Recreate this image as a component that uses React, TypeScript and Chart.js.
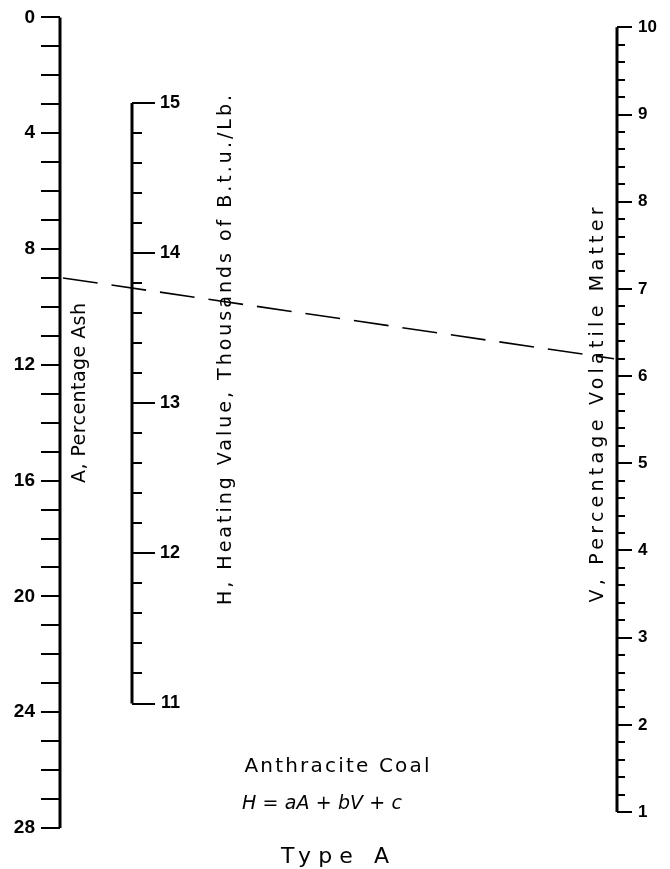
import React, { useEffect, useRef } from "react";
import { Chart, registerables } from "chart.js";

Chart.register(...registerables);

// ---------------- data ----------------
// A scale: Percentage Ash
const A_RANGE = [0, 28];
const A_TICKS = [0, 1, 2, 3, 4, 5, 6, 7, 8, 9, 10, 11, 12, 13, 14, 15, 16, 17, 18, 19, 20, 21, 22, 23, 24, 25, 26, 27, 28];
const A_LABELS = [0, 4, 8, 12, 16, 20, 24, 28];
// H scale: Heating value, thousands of B.t.u./Lb.
const H_RANGE = [11, 15];
const H_MAJOR = [11, 12, 13, 14, 15];
const H_MINOR = [11, 11.2, 11.4, 11.6, 11.8, 12, 12.2, 12.4, 12.6, 12.8, 13, 13.2, 13.4, 13.6, 13.8, 14, 14.2, 14.4, 14.6, 14.8, 15];
// V scale: Percentage Volatile Matter
const V_RANGE = [1, 10];
const V_MAJOR = [1, 2, 3, 4, 5, 6, 7, 8, 9, 10];
const V_MINOR = [
  1, 1.2, 1.4, 1.6, 1.8, 2, 2.2, 2.4, 2.6, 2.8, 3, 3.2, 3.4, 3.6, 3.8, 4, 4.2, 4.4, 4.6, 4.8,
  5, 5.2, 5.4, 5.6, 5.8, 6, 6.2, 6.4, 6.6, 6.8, 7, 7.2, 7.4, 7.6, 7.8, 8, 8.2, 8.4, 8.6, 8.8,
  9, 9.2, 9.4, 9.6, 9.8, 10,
];
// example isopleth (dashed line)
const ISO_A = 9;
const ISO_V = 6.2;

// texts
const TITLE_A = "A, Percentage Ash";
const TITLE_H = "H, Heating Value, Thousands of B.t.u./Lb.";
const TITLE_V = "V, Percentage Volatile Matter";
const CAPTION_1 = "Anthracite Coal";
const CAPTION_2 = "H = aA + bV + c";
const CAPTION_3 = "Type A";

// ---------------- layout ----------------
const W = 670;
const H = 869;
const AREA_TOP = 14;
const AREA_BOTTOM = 828;
const AXIS_X = { A: 60, H: 132, HLabel: 180, V: 617 };
// pixel anchors of each scale's ends: [valueAtTop, pixTop, valueAtBottom, pixBottom]
const A_ANCHOR = [0, 14, 28, 828];
const H_ANCHOR = [15, 100, 11, 703];
const V_ANCHOR = [10, 24, 1, 812];
const FONT = "'DejaVu Sans', sans-serif";
const NUM_FONT = "'Liberation Sans', Arial, sans-serif";

function valueAt(p: number, a: number[]) {
  const [v1, p1, v2, p2] = a;
  return v1 + ((p - p1) * (v2 - v1)) / (p2 - p1);
}

function near(list: number[], v: number) {
  return list.some((l) => Math.abs(l - v) < 1e-6);
}

function yAxis(opts: {
  anchor: number[];
  reverse?: boolean;
  ticks: number[];
  labels: number[] | null;
  tickLength: number;
  padding?: number;
  position: any;
  fontSize?: number;
  width?: number;
}) {
  const top = valueAt(AREA_TOP, opts.anchor);
  const bottom = valueAt(AREA_BOTTOM, opts.anchor);
  const cfg: any = {
    type: "linear",
    axis: "y",
    position: opts.position,
    reverse: !!opts.reverse,
    min: Math.min(top, bottom),
    max: Math.max(top, bottom),
    bounds: "data",
    afterBuildTicks: (scale: any) => {
      scale.ticks = opts.ticks.map((v) => ({ value: v }));
    },
    border: { display: false },
    grid: {
      display: true,
      drawOnChartArea: false,
      drawTicks: opts.tickLength !== 0,
      tickLength: opts.tickLength,
      tickWidth: 2,
      lineWidth: 2,
      tickColor: "#000",
      color: "#000",
    },
    ticks: {
      display: !!opts.labels,
      autoSkip: false,
      padding: opts.padding || 0,
      color: "#000",
      font: { family: NUM_FONT, size: opts.fontSize || 15, weight: "bold" },
      callback: (value: number) =>
        opts.labels && near(opts.labels, value) ? String(Math.round(value)) : "",
    },
  };
  if (opts.width !== undefined) {
    const w = opts.width;
    cfg.afterFit = (scale: any) => {
      scale.width = w;
    };
  }
  return cfg;
}

function drawText(
  ctx: CanvasRenderingContext2D,
  text: string,
  cx: number,
  cy: number,
  font: string,
  targetWidth: number,
  rotate: boolean
) {
  ctx.save();
  ctx.font = font;
  (ctx as any).letterSpacing = "0px";
  const w = ctx.measureText(text).width;
  const ls = Math.max(0, (targetWidth - w) / Math.max(1, text.length - 1));
  (ctx as any).letterSpacing = ls + "px";
  ctx.fillStyle = "#000";
  ctx.textAlign = "center";
  ctx.textBaseline = "middle";
  ctx.translate(cx, cy);
  if (rotate) ctx.rotate(-Math.PI / 2);
  ctx.fillText(text, ls / 2, 0);
  ctx.restore();
}

const nomogramPlugin = {
  id: "nomogramExtras",
  afterDatasetsDraw(chart: any) {
    const ctx: CanvasRenderingContext2D = chart.ctx;
    const sx = chart.scales.x;
    const sA = chart.scales.yA;
    const sV = chart.scales.yV;
    // dashed isopleth joining A and V values
    ctx.save();
    ctx.strokeStyle = "#000";
    ctx.lineWidth = 1.6;
    ctx.setLineDash([35, 14]);
    ctx.beginPath();
    ctx.moveTo(sx.getPixelForValue(AXIS_X.A) + 3, sA.getPixelForValue(ISO_A));
    ctx.lineTo(sx.getPixelForValue(AXIS_X.V) - 3, sV.getPixelForValue(ISO_V));
    ctx.stroke();
    ctx.restore();
  },
  afterDraw(chart: any) {
    const ctx: CanvasRenderingContext2D = chart.ctx;
    drawText(ctx, TITLE_A, 80, 393, `19px ${FONT}`, 180, true);
    drawText(ctx, TITLE_H, 226, 350, `19px ${FONT}`, 510, true);
    drawText(ctx, TITLE_V, 598, 405, `19px ${FONT}`, 395, true);
    drawText(ctx, CAPTION_1, 337, 767, `20px ${FONT}`, 185, false);
    drawText(ctx, CAPTION_2, 322, 804, `italic 19px ${FONT}`, 160, false);
    drawText(ctx, CAPTION_3, 335, 857, `22px ${FONT}`, 108, false);
  },
};

function spine(xPos: number, range: number[], axisId: string) {
  return {
    type: "scatter",
    showLine: true,
    data: [
      { x: xPos, y: range[0] },
      { x: xPos, y: range[1] },
    ],
    xAxisID: "x",
    yAxisID: axisId,
    borderColor: "#000",
    backgroundColor: "#000",
    borderWidth: 3,
    pointRadius: 0,
    clip: false,
  };
}

export default function App() {
  const ref = useRef<HTMLCanvasElement>(null);
  useEffect(() => {
    document.body.style.margin = "0";
    const canvas = ref.current!;
    const chart = new Chart(canvas, {
      type: "scatter",
      data: {
        datasets: [
          spine(AXIS_X.A, A_RANGE, "yA"),
          spine(AXIS_X.H, H_RANGE, "yH"),
          spine(AXIS_X.V, V_RANGE, "yV"),
        ] as any,
      },
      options: {
        responsive: false,
        animation: false,
        devicePixelRatio: 1,
        layout: { padding: { top: AREA_TOP, bottom: H - AREA_BOTTOM, left: 0, right: 0 }, autoPadding: false },
        plugins: { legend: { display: false }, tooltip: { enabled: false }, title: { display: false } },
        events: [],
        scales: {
          x: { type: "linear", min: AXIS_X.A, max: AXIS_X.V, display: false },
          // A: left axis, ticks + labels
          yA: yAxis({ anchor: A_ANCHOR, reverse: true, ticks: A_TICKS, labels: A_LABELS, tickLength: 19, padding: 6, position: "left", fontSize: 19, width: AXIS_X.A }),
          // V: right axis, major ticks + labels
          yV: yAxis({ anchor: V_ANCHOR, ticks: V_MAJOR, labels: V_MAJOR, tickLength: 15, padding: 6, position: "right", fontSize: 17, width: W - AXIS_X.V }),
          yVmin: yAxis({ anchor: V_ANCHOR, ticks: V_MINOR, labels: null, tickLength: -8, position: { x: AXIS_X.V } }),
          // H: middle axis
          yH: yAxis({ anchor: H_ANCHOR, ticks: H_MAJOR, labels: null, tickLength: -23, position: { x: AXIS_X.H } }),
          yHmin: yAxis({ anchor: H_ANCHOR, ticks: H_MINOR, labels: null, tickLength: -10, position: { x: AXIS_X.H } }),
          yHlab: yAxis({ anchor: H_ANCHOR, ticks: H_MAJOR, labels: H_MAJOR, tickLength: 0, position: { x: AXIS_X.HLabel }, fontSize: 18 }),
        } as any,
      },
      plugins: [nomogramPlugin],
    } as any);
    return () => chart.destroy();
  }, []);
  return (
    <div style={{ width: W, height: H, background: "#fff" }}>
      <canvas ref={ref} width={W} height={H} style={{ display: "block" }} />
    </div>
  );
}
